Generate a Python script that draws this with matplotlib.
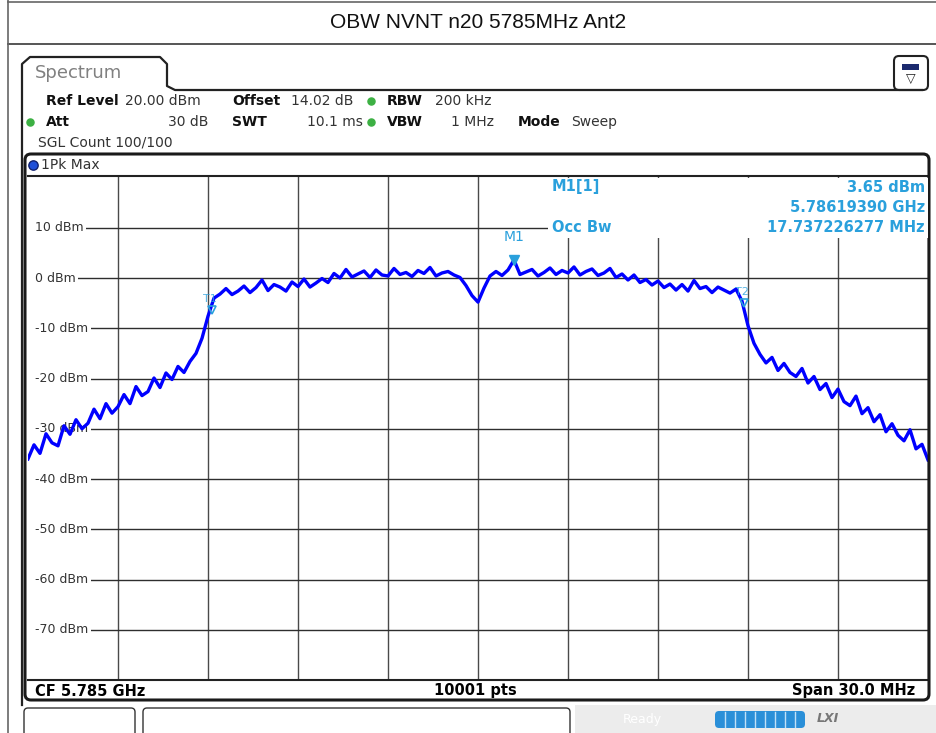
import numpy as np
import matplotlib
matplotlib.use("Agg")
import matplotlib.pyplot as plt
from matplotlib.patches import FancyBboxPatch, Rectangle

# sweep: 5.770 .. 5.800 GHz, values every 0.2 MHz (offset from CF)
center_ghz = 5.785
span_mhz = 30.0
offset_mhz = np.linspace(-15, 15, 151)
level_dbm = [
    -36.0, -33.2, -34.9, -31.0, -32.8, -33.4, -29.4, -31.1, -28.2, -30.0,
    -28.9, -26.1, -28.0, -25.0, -26.9, -25.6, -23.2, -25.0, -21.6, -23.4,
    -22.6, -19.9, -21.8, -18.9, -20.2, -17.6, -18.8, -16.6, -15.0, -12.0,
    -7.6, -4.0, -3.2, -2.1, -3.3, -2.6, -1.6, -2.9, -1.9, -0.4,
    -2.5, -1.3, -1.8, -2.6, -0.8, -1.7, -0.2, -1.8, -1.0, -0.1,
    -0.9, 0.9, 0.0, 1.7, 0.2, 0.8, 1.4, 0.1, 1.6, 0.6,
    0.4, 1.9, 0.7, 1.1, 0.3, 1.5, 0.9, 2.1, 0.4, 1.0,
    1.3, 0.6, 0.1, -1.5, -3.5, -4.8, -2.0, 0.4, 1.3, 0.5,
    1.6, 3.6, 0.7, 1.2, 1.7, 0.4, 1.1, 2.0, 0.7, 1.5,
    1.0, 2.2, 0.6, 1.3, 1.8, 0.5, 1.0, 1.9, 0.1, 0.8,
    -0.4, 0.6, -0.9, -0.3, -1.4, -0.6, -1.9, -1.2, -2.4, -1.3,
    -2.6, -0.5, -2.1, -1.7, -2.9, -1.8, -2.4, -3.0, -2.2, -4.6,
    -9.5, -13.0, -15.2, -16.9, -15.8, -18.4, -17.0, -18.8, -19.6, -18.0,
    -20.9, -19.6, -22.2, -21.0, -23.8, -22.1, -24.6, -25.4, -23.5, -27.0,
    -25.8, -28.6, -27.2, -30.6, -29.0, -31.3, -32.4, -30.2, -34.0, -33.1,
    -36.2,
]
ytick_vals = [10, 0, -10, -20, -30, -40, -50, -60, -70]

# markers
m1_ghz = 5.78619390
m1_level = 3.65
occ_bw_mhz = 17.737226277
t_offsets = [-8.87, 8.87]
t_levels = [-6.4, -5.0]
t_names = ["T1", "T2"]

info_rows = [
    # (x, y, text, bold)
    (46, 101, "Ref Level", True), (125, 101, "20.00 dBm", False),
    (232, 101, "Offset", True), (291, 101, "14.02 dB", False),
    (387, 101, "RBW", True), (435, 101, "200 kHz", False),
    (46, 122, "Att", True), (232, 122, "SWT", True),
    (387, 122, "VBW", True), (518, 122, "Mode", True), (571, 122, "Sweep", False),
    (38, 142, "SGL Count 100/100", False),
]

W, H = 937, 733
fig = plt.figure(figsize=(W / 100, H / 100), dpi=100)
fig.patch.set_facecolor("white")

mk_color = "#2aa0dc"
fs = 10.5
fs_info = 10

# main trace axes (pixel box 28..928 x 176..680)
ax = fig.add_axes([28 / W, 1 - 680 / H, 900 / W, 504 / H], zorder=5)
ax.set_xlim(-span_mhz / 2, span_mhz / 2)
ax.set_ylim(-80, 20.3)
ax.set_xticks(np.arange(-15, 16, 3))
ax.set_yticks(ytick_vals)
ax.tick_params(length=0, labelbottom=False, labelleft=False)
ax.grid(True, axis="y", color="#2e2e2e", lw=1.0, zorder=1)
ax.grid(True, axis="x", color="#4a4a4a", lw=1.0, zorder=1)
ax.set_axisbelow(True)
for s in ["left", "right"]:
    ax.spines[s].set_visible(False)
for s in ["top", "bottom"]:
    ax.spines[s].set_color("#222222")
    ax.spines[s].set_linewidth(1.5)

# keep the grid from running under the left-hand level labels
ax.add_patch(Rectangle((-15, -80), 0.25, 100.3, fc="white", ec="none", zorder=1.5))
for v in ytick_vals:
    ax.text(-14.77, v, f"{v} dBm", fontsize=9, color="#333333", va="center", ha="left",
            zorder=2, bbox=dict(boxstyle="square,pad=0.2", fc="white", ec="none"))

ax.plot(offset_mhz, level_dbm, color="#0000ff", lw=2.4, zorder=3)

# M1 marker
m1_off = (m1_ghz - center_ghz) * 1000
ax.plot([m1_off], [m1_level], marker="v", ms=7, color=mk_color, zorder=4)
ax.annotate("M1", (m1_off, m1_level), xytext=(0, 16), textcoords="offset pixels",
            ha="center", va="bottom", fontsize=10, color=mk_color, zorder=4)
# T1 / T2 occupied bandwidth edges
for off, lev, name in zip(t_offsets, t_levels, t_names):
    ax.plot([off], [lev], marker="v", ms=6, mfc="none", mec=mk_color, mew=1.2, zorder=4)
    ax.annotate(name, (off, lev), xytext=(-2, 6), textcoords="offset pixels",
                ha="center", va="bottom", fontsize=8, color=mk_color, alpha=0.8, zorder=4)

# overlay in pixel coords for the instrument screen furniture
ov = fig.add_axes([0, 0, 1, 1], zorder=10)
ov.set_xlim(0, W)
ov.set_ylim(H, 0)
ov.axis("off")
ov.patch.set_alpha(0)

ov.text(478, 23, "OBW NVNT n20 5785MHz Ant2", ha="center", va="center",
        fontsize=15, family="Liberation Sans", color="#111111")
ov.plot([8, W], [2, 2], color="#666666", lw=1.2)
ov.plot([8, W], [44, 44], color="#555555", lw=1.4)
ov.plot([8, 8], [0, H], color="#666666", lw=1.2)

# spectrum tab + panel outline
ov.plot([22, 22, 30, 160, 167, 167, 175, 922], [705, 64, 57, 57, 64, 86, 90, 90],
        color="#222222", lw=1.6)
ov.text(35, 73, "Spectrum", fontsize=13, color="#808080", va="center")
ov.add_patch(FancyBboxPatch((894, 56), 34, 34, boxstyle="round,pad=0,rounding_size=5",
                            fc="white", ec="#222222", lw=1.5))
ov.add_patch(Rectangle((902, 64), 17, 6, fc="#1b2a6e", ec="none"))
ov.text(911, 79, "▽", fontsize=9, ha="center", va="center", color="#222222")

for x, y, txt, bold in info_rows:
    ov.text(x, y, txt, fontsize=fs_info, fontweight="bold" if bold else "normal",
            color="#111111" if bold else "#333333", va="center")
ov.text(208, 122, "30 dB", fontsize=fs_info, color="#333333", va="center", ha="right")
ov.text(363, 122, "10.1 ms", fontsize=fs_info, color="#333333", va="center", ha="right")
ov.text(494, 122, "1 MHz", fontsize=fs_info, color="#333333", va="center", ha="right")
ov.scatter([371, 30, 371], [101, 122, 122], s=26, color="#3cb043", zorder=3)

# plot frame
ov.add_patch(FancyBboxPatch((25, 154), 904, 546, boxstyle="round,pad=0,rounding_size=6",
                            fc="none", ec="#1a1a1a", lw=2.2))
ov.scatter([33], [165], s=45, color="#1f4fd8", edgecolor="#102070", zorder=3)
ov.text(41, 165, "1Pk Max", fontsize=fs_info, color="#333333", va="center")

# marker info block (hides grid behind it)
ov.add_patch(Rectangle((548, 177.5), 380, 60, fc="white", ec="none"))
ov.text(552, 187, "M1[1]", fontsize=fs, fontweight="bold", color=mk_color, va="center")
ov.text(925, 187, f"{m1_level:.2f} dBm", fontsize=fs, fontweight="bold", color=mk_color,
        va="center", ha="right")
ov.text(925, 208, f"{m1_ghz:.8f} GHz", fontsize=fs, fontweight="bold", color=mk_color,
        va="center", ha="right")
ov.text(552, 228, "Occ Bw", fontsize=fs, fontweight="bold", color=mk_color, va="center")
ov.text(925, 228, f"{occ_bw_mhz:.9f} MHz", fontsize=fs, fontweight="bold", color=mk_color,
        va="center", ha="right")

# footer
ov.text(35, 691, f"CF {center_ghz:.3f} GHz", fontsize=fs, fontweight="bold", va="center")
ov.text(475, 691, "10001 pts", fontsize=fs, fontweight="bold", va="center", ha="center")
ov.text(915, 691, f"Span {span_mhz:.1f} MHz", fontsize=fs, fontweight="bold", va="center",
        ha="right")

# status bar
ov.add_patch(Rectangle((575, 705), W - 575, H - 705, fc="#ececec", ec="none"))
ov.add_patch(FancyBboxPatch((24, 708), 111, 30, boxstyle="round,pad=0,rounding_size=4",
                            fc="white", ec="#333333", lw=1.0))
ov.add_patch(FancyBboxPatch((143, 708), 427, 30, boxstyle="round,pad=0,rounding_size=4",
                            fc="white", ec="#333333", lw=1.0))
ov.text(642, 720, "Ready", fontsize=9, color="white", va="center", ha="center")
ov.add_patch(FancyBboxPatch((715, 711), 90, 17, boxstyle="round,pad=0,rounding_size=4",
                            fc="#2a8fd8", ec="none"))
for xs in range(725, 805, 10):
    ov.plot([xs, xs], [712, 727], color="#bfe0f7", lw=1)
ov.text(828, 719, "LXI", fontsize=9, fontweight="bold", style="italic", color="#777777",
        va="center", ha="center")

fig.savefig("out.png", dpi=100)
